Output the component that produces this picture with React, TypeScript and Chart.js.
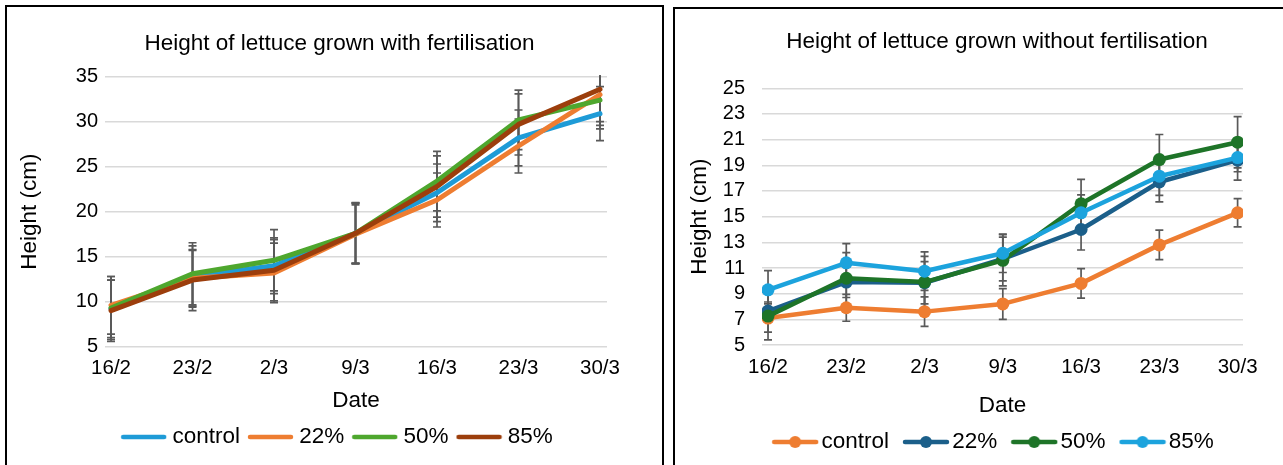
import { useEffect, useRef } from 'react';
import { Chart, registerables } from 'chart.js';

Chart.register(...registerables);
Chart.defaults.font.family = '"Liberation Sans", Arial, sans-serif';
Chart.defaults.color = '#000';

// ---------- data ----------
const categories = ['16/2', '23/2', '2/3', '9/3', '16/3', '23/3', '30/3'];
const seriesNames = ['control', '22%', '50%', '85%'];

// With fertilisation (height, cm)
const fertControl = [9.2, 12.8, 14.0, 17.6, 22.1, 28.2, 30.9];
const fert22 = [9.6, 12.6, 13.2, 17.5, 21.3, 27.3, 33.0];
const fert50 = [9.3, 13.1, 14.6, 17.6, 23.4, 30.2, 32.4];
const fert85 = [9.0, 12.4, 13.5, 17.6, 22.8, 29.7, 33.6];
const fertControlErr = [3.2, 3.4, 3.1, 3.4, 3.2, 3.1, 3.0];
const fert22Err = [3.2, 3.1, 3.3, 3.25, 3.0, 3.0, 3.4];
const fert50Err = [3.5, 3.45, 3.4, 3.35, 3.3, 3.3, 3.2];
const fert85Err = [3.4, 3.4, 3.4, 3.35, 3.4, 3.4, 3.6];

// Without fertilisation (height, cm)
const noFertControl = [7.1, 7.9, 7.6, 8.2, 9.8, 12.8, 15.3];
const noFert22 = [7.65, 9.9, 9.85, 11.7, 14.0, 17.7, 19.4];
const noFert50 = [7.25, 10.2, 9.9, 11.6, 16.0, 19.45, 20.8];
const noFert85 = [9.3, 11.4, 10.75, 12.15, 15.3, 18.15, 19.6];
const noFertControlErr = [1.1, 1.05, 1.15, 1.2, 1.15, 1.15, 1.1];
const noFert22Err = [0.7, 1.2, 1.65, 1.7, 1.6, 1.55, 1.55];
const noFert50Err = [1.85, 2.0, 2.0, 2.0, 1.9, 1.95, 2.0];
const noFert85Err = [1.5, 1.5, 1.5, 1.5, 1.4, 1.5, 1.1];

const fertTicks = { min: 5, max: 35, step: 5 };
const noFertTicks = { min: 5, max: 25, step: 2 };

// ---------- helpers ----------
const errorBarsPlugin = {
  id: 'errorBars',
  beforeDatasetsDraw(chart: any) {
    const { ctx, chartArea, scales } = chart;
    ctx.save();
    ctx.beginPath();
    ctx.rect(chartArea.left - 10, chartArea.top - 1.5, chartArea.right - chartArea.left + 20, chartArea.bottom - chartArea.top + 3);
    ctx.clip();
    ctx.strokeStyle = '#595959';
    ctx.lineWidth = 1.7;
    chart.data.datasets.forEach((ds: any) => {
      const errs: number[] = ds.errors || [];
      ds.data.forEach((pt: any, k: number) => {
        const e = errs[k];
        if (e == null) return;
        const x = scales.x.getPixelForValue(pt.x);
        const yt = scales.y.getPixelForValue(pt.y + e);
        const yb = scales.y.getPixelForValue(pt.y - e);
        ctx.beginPath();
        ctx.moveTo(x, yt);
        ctx.lineTo(x, yb);
        ctx.moveTo(x - 4, yt);
        ctx.lineTo(x + 4, yt);
        ctx.moveTo(x - 4, yb);
        ctx.lineTo(x + 4, yb);
        ctx.stroke();
      });
    });
    ctx.restore();
  },
};

function legendImage(color: string, withMarker: boolean, w: number, h: number) {
  const c = document.createElement('canvas');
  c.width = w;
  c.height = h;
  const g = c.getContext('2d')!;
  g.strokeStyle = color;
  g.lineWidth = 4.5;
  g.lineCap = 'round';
  g.beginPath();
  g.moveTo(3, h / 2);
  g.lineTo(w - 3, h / 2);
  g.stroke();
  if (withMarker) {
    g.fillStyle = color;
    g.beginPath();
    g.arc(w / 2, h / 2, 6, 0, Math.PI * 2);
    g.fill();
  }
  return c;
}

type Series = { values: number[]; errors: number[]; color: string };

type Layout = {
  title: string;
  series: Series[];
  ticks: { min: number; max: number; step: number };
  xMin: number;
  xMax: number;
  markers: boolean;
  lineWidth: number;
  leftPad: number;
  yWidth: number;
  rightWidth: number;
  titlePad: { top: number; bottom: number };
  yTickPad: number;
  yTitlePadTop: number;
  xHeight: number;
  xTickPad: number;
  xTitlePadBottom: number;
  legendPad: number;
  legendBoxWidth: number;
  legendImgW: number;
  bottomPad: number;
};

function buildConfig(p: Layout): any {
  const images = p.series.map((s) => legendImage(s.color, p.markers, p.legendImgW, 16));
  const datasets = p.series.map((s, i) => ({
    label: seriesNames[i],
    data: s.values.map((y, k) => ({ x: k, y })),
    errors: s.errors,
    borderColor: s.color,
    backgroundColor: s.color,
    borderWidth: p.lineWidth,
    pointRadius: p.markers ? 6.5 : 0,
    pointHoverRadius: p.markers ? 6.5 : 0,
    pointBackgroundColor: s.color,
    pointBorderColor: s.color,
    pointBorderWidth: 0,
    tension: 0,
    fill: false,
    borderCapStyle: 'round',
    borderJoinStyle: 'round',
    order: p.series.length - 1 - i,
  }));
  return {
    type: 'line',
    data: { datasets },
    plugins: [errorBarsPlugin],
    options: {
      animation: false,
      responsive: false,
      events: [],
      layout: { padding: { left: p.leftPad, right: 0, top: 0, bottom: p.bottomPad } },
      plugins: {
        tooltip: { enabled: false },
        title: {
          display: true,
          text: p.title,
          color: '#000',
          font: { size: 22.5, weight: 'normal' },
          padding: p.titlePad,
        },
        legend: {
          display: true,
          position: 'bottom',
          labels: {
            usePointStyle: true,
            pointStyleWidth: p.legendBoxWidth,
            padding: p.legendPad,
            color: '#000',
            font: { size: 22.5 },
            generateLabels: (chart: any) =>
              chart.data.datasets.map((ds: any, i: number) => ({
                text: ds.label,
                pointStyle: images[i],
                fillStyle: ds.borderColor,
                strokeStyle: ds.borderColor,
                lineWidth: 0,
                hidden: false,
                datasetIndex: i,
                fontColor: '#000',
              })),
          },
        },
      },
      scales: {
        x: {
          type: 'linear',
          min: p.xMin,
          max: p.xMax,
          grid: { display: false, drawTicks: false },
          border: { display: false },
          ticks: {
            autoSkip: false,
            maxRotation: 0,
            padding: p.xTickPad,
            color: '#000',
            font: { size: 20.5 },
            callback: (v: number) => categories[v] ?? '',
          },
          afterBuildTicks: (scale: any) => {
            scale.ticks = categories.map((_, i) => ({ value: i }));
          },
          title: {
            display: true,
            text: 'Date',
            color: '#000',
            font: { size: 22.5 },
            padding: { top: 0, bottom: p.xTitlePadBottom },
          },
          afterFit: (scale: any) => {
            scale.height = p.xHeight;
          },
        },
        y: {
          type: 'linear',
          min: p.ticks.min,
          max: p.ticks.max,
          grid: { color: '#d9d9d9', lineWidth: 1.5, drawTicks: false },
          border: { display: false },
          ticks: {
            stepSize: p.ticks.step,
            autoSkip: false,
            padding: p.yTickPad,
            color: '#000',
            font: { size: 20 },
          },
          title: {
            display: true,
            text: 'Height (cm)',
            color: '#000',
            font: { size: 22.5 },
            padding: { top: p.yTitlePadTop, bottom: 0 },
          },
          afterFit: (scale: any) => {
            scale.width = p.yWidth;
          },
        },
        yPad: {
          type: 'linear',
          position: 'right',
          display: true,
          grid: { display: false, drawTicks: false },
          border: { display: false },
          ticks: { display: false },
          afterFit: (scale: any) => {
            scale.width = p.rightWidth;
          },
        },
      },
    },
  };
}

function ChartCanvas({ config, width, height }: { config: () => any; width: number; height: number }) {
  const ref = useRef<HTMLCanvasElement | null>(null);
  useEffect(() => {
    if (!ref.current) return;
    const chart = new Chart(ref.current, config());
    return () => chart.destroy();
  }, []);
  return <canvas ref={ref} width={width} height={height} style={{ display: 'block' }} />;
}

const leftConfig = () =>
  buildConfig({
    title: 'Height of lettuce grown with fertilisation',
    series: [
      { values: fertControl, errors: fertControlErr, color: '#1E9BD7' },
      { values: fert22, errors: fert22Err, color: '#EE7D31' },
      { values: fert50, errors: fert50Err, color: '#4EA72E' },
      { values: fert85, errors: fert85Err, color: '#9C3E0C' },
    ],
    ticks: fertTicks,
    xMin: -0.074,
    xMax: 6.086,
    markers: false,
    lineWidth: 5,
    leftPad: 10,
    yWidth: 88,
    rightWidth: 55,
    titlePad: { top: 23.5, bottom: 19.2 },
    yTickPad: 7,
    yTitlePadTop: -0.5,
    xHeight: 66.05,
    xTickPad: 9,
    xTitlePadBottom: -1.75,
    legendPad: 13,
    legendBoxWidth: 35,
    legendImgW: 47,
    bottomPad: 6.75,
  });

const rightConfig = () =>
  buildConfig({
    title: 'Height of lettuce grown without fertilisation',
    series: [
      { values: noFertControl, errors: noFertControlErr, color: '#EE7D31' },
      { values: noFert22, errors: noFert22Err, color: '#1B5F8A' },
      { values: noFert50, errors: noFert50Err, color: '#1E7428' },
      { values: noFert85, errors: noFert85Err, color: '#1CA3DD' },
    ],
    ticks: noFertTicks,
    xMin: -0.077,
    xMax: 6.069,
    markers: true,
    lineWidth: 4.5,
    leftPad: 0,
    yWidth: 87,
    rightWidth: 76,
    titlePad: { top: 19.5, bottom: 32.8 },
    yTickPad: 17,
    yTitlePadTop: 11.5,
    xHeight: 63.75,
    xTickPad: 10.5,
    xTitlePadBottom: -10.75,
    legendPad: 22,
    legendBoxWidth: 30,
    legendImgW: 48,
    bottomPad: 1.75,
  });

export default function App() {
  return (
    <div
      style={{
        position: 'fixed',
        left: 0,
        top: 0,
        width: 1283,
        height: 465,
        overflow: 'hidden',
        background: '#fff',
      }}
    >
      <div style={{ position: 'absolute', left: 5, top: 5, width: 655, height: 470, border: '2px solid #000' }}>
        <ChartCanvas config={leftConfig} width={655} height={458} />
      </div>
      <div style={{ position: 'absolute', left: 673, top: 7, width: 644, height: 470, border: '2px solid #000' }}>
        <ChartCanvas config={rightConfig} width={644} height={456} />
      </div>
    </div>
  );
}
